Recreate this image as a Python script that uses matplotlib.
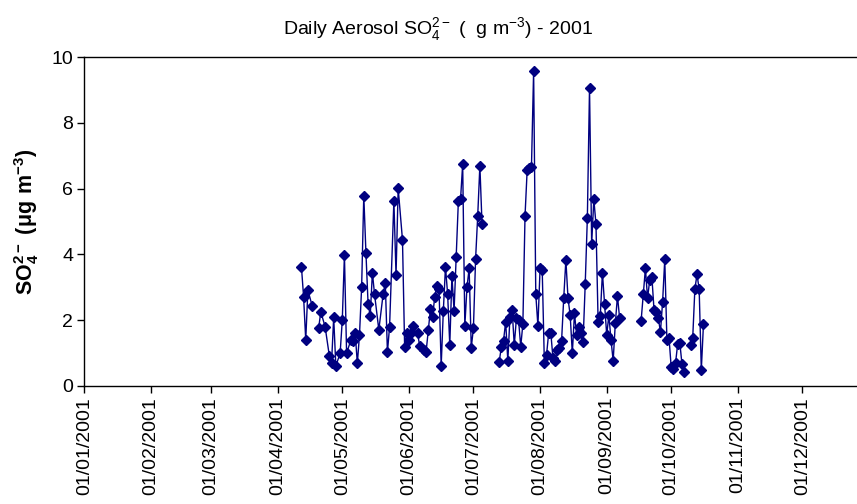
"""Daily aerosol SO4 2- concentrations, 2001 - Excel-style time series"""

import numpy as np
import pandas as pd
import matplotlib

matplotlib.use('Agg')
import matplotlib.pyplot as plt
import matplotlib.dates as mdates

plt.rcParams['font.family'] = ['Liberation Sans', 'DejaVu Sans']
plt.rcParams['mathtext.fontset'] = 'custom'
plt.rcParams['mathtext.rm'] = 'Liberation Sans'
plt.rcParams['mathtext.bf'] = 'Liberation Sans:bold'

# sampling days
dates = [
    # Apr - early Jul
    '2001-04-12', '2001-04-13', '2001-04-14', '2001-04-15', '2001-04-17', '2001-04-20',
    '2001-04-21', '2001-04-23', '2001-04-25', '2001-04-26', '2001-04-27', '2001-04-28',
    '2001-04-30', '2001-05-01', '2001-05-02', '2001-05-03', '2001-05-05', '2001-05-06',
    '2001-05-07', '2001-05-08', '2001-05-09', '2001-05-10', '2001-05-11', '2001-05-12',
    '2001-05-13', '2001-05-14', '2001-05-15', '2001-05-16', '2001-05-18', '2001-05-20',
    '2001-05-21', '2001-05-22', '2001-05-23', '2001-05-25', '2001-05-26', '2001-05-27',
    '2001-05-29', '2001-05-30', '2001-05-31', '2001-06-01', '2001-06-02', '2001-06-03',
    '2001-06-05', '2001-06-06', '2001-06-08', '2001-06-09', '2001-06-10', '2001-06-11',
    '2001-06-12', '2001-06-13', '2001-06-14', '2001-06-15', '2001-06-16', '2001-06-17',
    '2001-06-18', '2001-06-19', '2001-06-20', '2001-06-21', '2001-06-22', '2001-06-23',
    '2001-06-24', '2001-06-25', '2001-06-26', '2001-06-27', '2001-06-28', '2001-06-29',
    '2001-06-30', '2001-07-01', '2001-07-02', '2001-07-03', '2001-07-04', '2001-07-05',
    # mid Jul - early Sep
    '2001-07-13', '2001-07-14', '2001-07-15', '2001-07-16', '2001-07-17', '2001-07-18',
    '2001-07-19', '2001-07-20', '2001-07-21', '2001-07-22', '2001-07-23', '2001-07-24',
    '2001-07-25', '2001-07-26', '2001-07-27', '2001-07-28', '2001-07-29', '2001-07-30',
    '2001-07-31', '2001-08-01', '2001-08-02', '2001-08-03', '2001-08-04', '2001-08-05',
    '2001-08-06', '2001-08-07', '2001-08-08', '2001-08-09', '2001-08-10', '2001-08-11',
    '2001-08-12', '2001-08-13', '2001-08-14', '2001-08-15', '2001-08-16', '2001-08-17',
    '2001-08-18', '2001-08-19', '2001-08-20', '2001-08-21', '2001-08-22', '2001-08-23',
    '2001-08-24', '2001-08-25', '2001-08-26', '2001-08-27', '2001-08-28', '2001-08-29',
    '2001-08-30', '2001-08-31', '2001-09-01', '2001-09-02', '2001-09-03', '2001-09-04',
    '2001-09-05', '2001-09-06', '2001-09-07',
    # late Sep - early Oct
    '2001-09-17', '2001-09-18', '2001-09-19', '2001-09-20', '2001-09-21', '2001-09-22',
    '2001-09-23', '2001-09-24', '2001-09-25', '2001-09-26', '2001-09-27', '2001-09-28',
    '2001-09-29', '2001-09-30', '2001-10-01', '2001-10-02', '2001-10-03', '2001-10-04',
    '2001-10-05', '2001-10-06', '2001-10-07',
    # mid Oct
    '2001-10-10', '2001-10-11', '2001-10-12', '2001-10-13', '2001-10-14', '2001-10-15',
    '2001-10-16',
]

so4 = [
    3.62, 2.71, 1.39, 2.91, 2.43, 1.75,
    2.25, 1.80, 0.90, 0.68, 2.08, 0.60,
    0.99, 2.00, 3.98, 0.99, 1.39, 1.36,
    1.61, 0.68, 1.54, 3.00, 5.79, 4.05,
    2.49, 2.12, 3.44, 2.79, 1.70, 2.79,
    3.14, 1.02, 1.80, 5.63, 3.37, 6.01,
    4.44, 1.19, 1.61, 1.39, 1.61, 1.82,
    1.61, 1.21, 1.09, 1.04, 1.70, 2.33,
    2.08, 2.71, 3.04, 2.94, 0.60, 2.28,
    3.62, 2.79, 1.24, 3.34, 2.28, 3.93,
    5.63, 5.67, 6.75, 1.82, 3.00, 3.57,
    1.16, 1.75, 3.85, 5.18, 6.70, 4.92,
    0.73, 1.19, 1.37, 1.95, 0.76, 2.10,
    2.31, 1.24, 2.05, 2.00, 1.19, 1.88,
    5.17, 6.57, 6.62, 6.67, 9.58, 2.79,
    1.82, 3.57, 3.52, 0.68, 0.93, 1.61,
    1.61, 0.83, 0.76, 1.09, 1.14, 1.36,
    2.66, 3.83, 2.66, 2.15, 0.99, 2.20,
    1.54, 1.80, 1.60, 1.34, 3.09, 5.12,
    9.07, 4.31, 5.68, 4.92, 1.95, 2.12,
    3.44, 2.49, 1.54, 2.15, 1.39, 0.76,
    1.90, 2.73, 2.05,
    1.98, 2.79, 3.57, 2.66, 3.22, 3.32,
    2.31, 2.25, 2.05, 1.64, 2.56, 3.85,
    1.39, 1.44, 0.56, 0.50, 0.68, 1.27,
    1.31, 0.66, 0.43,
    1.24, 1.45, 2.94, 3.39, 2.94, 0.48,
    1.87,
]

yticks = [0, 2, 4, 6, 8, 10]
month_ticks = pd.date_range('2001-01-01', '2001-12-01', freq='MS')

# blank cells in the sheet -> break the line over the longer gaps
s = pd.Series(so4, index=pd.to_datetime(dates))
gap = s.index.to_series().diff() > pd.Timedelta(days=2)
breaks = s.index[gap] - pd.Timedelta(days=1)
s = pd.concat([s, pd.Series(np.nan, index=breaks)]).sort_index()

W, H = 857, 504
fig = plt.figure(figsize=(W / 100, H / 100), dpi=100)
x0, x1 = 84.3, 869.0   # plot area runs past the right edge (cropped)
y0, y1 = 385.7, 57.3
ax = fig.add_axes([x0 / W, 1 - y0 / H, (x1 - x0) / W, (y0 - y1) / H])

navy = '#000080'
ax.plot(s.index, s.values, color=navy, linewidth=1.0, marker='D',
        markersize=4.6, markerfacecolor=navy, markeredgecolor=navy)

ax.set_xlim(pd.Timestamp('2001-01-01'), pd.Timestamp('2002-01-01'))
ax.set_ylim(0, 10)
ax.set_yticks(yticks)
ax.set_xticks(month_ticks)
ax.xaxis.set_major_formatter(mdates.DateFormatter('%d/%m/%Y'))
ax.tick_params(axis='x', direction='out', length=5, width=1,
               labelrotation=90, labelsize=14, pad=3)
ax.tick_params(axis='y', direction='out', length=5, width=1, labelsize=14, pad=3)

for side in ['left', 'bottom', 'top']:
    ax.spines[side].set_linewidth(1.0)
    ax.spines[side].set_color('black')
ax.spines['right'].set_visible(False)

ax.set_ylabel(r'$\mathbf{SO_4^{2-}}$ $\mathbf{(\mu g\ m^{-3})}$', fontsize=15.5, fontweight='bold')
ax.yaxis.set_label_coords((41 - x0) / (x1 - x0), 0.5)

fig.text(438 / W, 1 - 30 / H, r'Daily Aerosol SO$_4^{2-}$ (  g m$^{-3}$) - 2001',
         ha='center', va='center', fontsize=14)

fig.savefig('out.png', dpi=100)
plt.close(fig)
